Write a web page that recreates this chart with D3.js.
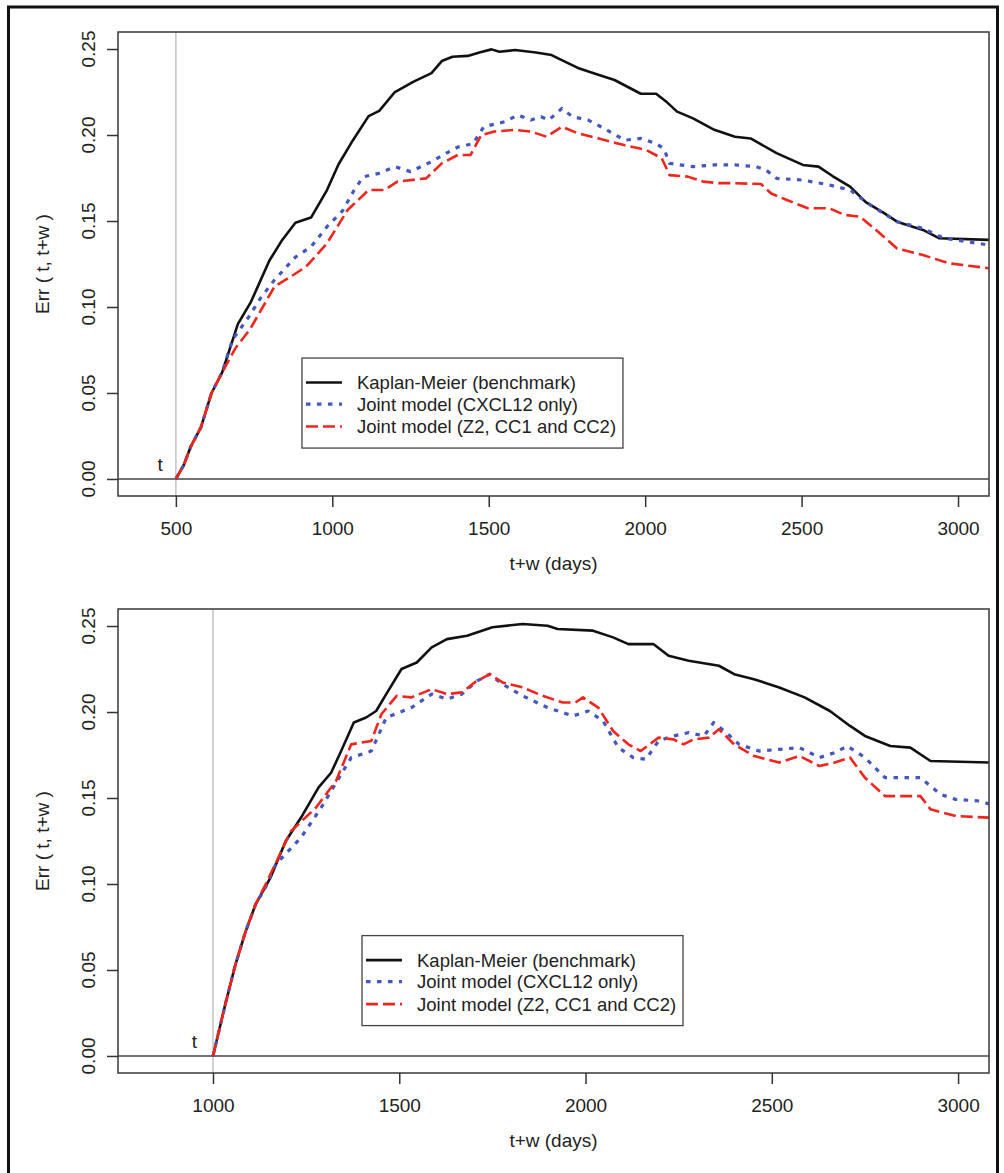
<!DOCTYPE html>
<html>
<head>
<meta charset="utf-8">
<script src="https://cdn.jsdelivr.net/npm/d3@7"></script>
<style>
  body { margin: 0; background: #fff; }
  text { font-family: "Liberation Sans", Arial, sans-serif; fill: #222; }
</style>
</head>
<body>
<svg id="vis" width="1004" height="1173"></svg>
<script>
const svg = d3.select("#vis");

// series: [t+w (days), Err]
const topKM = [[500,0],[525,0.008],[548,0.019],[580,0.03],[614,0.05],[648,0.062],[698,0.09],[740,0.103],
  [799,0.127],[840,0.139],[882,0.149],[932,0.152],[983,0.168],[1020,0.183],[1066,0.197],[1116,0.211],
  [1150,0.214],[1200,0.225],[1260,0.231],[1317,0.236],[1350,0.243],[1384,0.2455],[1433,0.246],[1470,0.248],
  [1509,0.2498],[1534,0.2484],[1584,0.2494],[1651,0.248],[1701,0.2465],[1740,0.243],[1785,0.239],[1850,0.235],
  [1902,0.232],[1986,0.224],[2035,0.224],[2070,0.219],[2102,0.2136],[2153,0.2097],[2221,0.203],[2287,0.199],
  [2337,0.198],[2420,0.1895],[2504,0.1826],[2554,0.1816],[2600,0.176],[2655,0.170],[2705,0.161],[2760,0.155],
  [2805,0.1496],[2850,0.147],[2888,0.1448],[2939,0.140],[3100,0.139]];
const topCXCL12 = [[500,0],[525,0.008],[548,0.019],[580,0.03],[614,0.05],[648,0.062],[681,0.081],[732,0.094],
  [770,0.105],[815,0.1157],[882,0.129],[932,0.135],[983,0.1467],[1033,0.156],[1070,0.168],[1099,0.1757],
  [1149,0.1777],[1200,0.1816],[1250,0.1787],[1317,0.1845],[1360,0.189],[1401,0.193],[1450,0.195],[1484,0.2048],
  [1551,0.2077],[1593,0.2116],[1635,0.2087],[1667,0.2106],[1692,0.2087],[1734,0.2155],[1768,0.2106],[1818,0.2087],
  [1868,0.2039],[1935,0.197],[1986,0.198],[2035,0.195],[2060,0.192],[2078,0.1835],[2153,0.1816],[2221,0.1826],
  [2287,0.1826],[2354,0.1816],[2386,0.1797],[2420,0.1748],[2504,0.1738],[2588,0.171],[2655,0.168],[2722,0.159],
  [2805,0.1496],[2888,0.1457],[2955,0.14],[3100,0.136]];
const topZ2 = [[500,0],[525,0.008],[548,0.019],[580,0.03],[614,0.05],[648,0.062],[690,0.076],[737,0.087],
  [815,0.1118],[870,0.118],[916,0.1234],[983,0.137],[1049,0.1564],[1116,0.168],[1166,0.168],[1208,0.1729],
  [1300,0.1748],[1350,0.1835],[1401,0.1884],[1442,0.1884],[1476,0.200],[1518,0.202],[1584,0.203],[1635,0.202],
  [1685,0.199],[1734,0.2048],[1785,0.201],[1852,0.198],[1935,0.194],[2003,0.1913],[2053,0.1865],[2078,0.1767],
  [2136,0.1758],[2186,0.1729],[2236,0.172],[2287,0.172],[2370,0.1715],[2403,0.166],[2453,0.1622],[2520,0.1574],
  [2588,0.1574],[2638,0.1535],[2687,0.1525],[2738,0.1448],[2805,0.134],[2888,0.1302],[2971,0.1254],[3100,0.1225]];

const botKM = [[1000,0],[1033,0.03],[1060,0.053],[1087,0.072],[1114,0.088],[1154,0.1035],[1195,0.1249],
  [1236,0.1385],[1283,0.156],[1317,0.1647],[1344,0.1773],[1378,0.1939],[1411,0.1968],[1438,0.2006],[1465,0.2104],
  [1506,0.225],[1547,0.2288],[1587,0.2376],[1628,0.2424],[1682,0.2443],[1750,0.2493],[1831,0.2512],[1898,0.2502],
  [1925,0.2483],[2020,0.2473],[2074,0.2434],[2115,0.2395],[2182,0.2395],[2223,0.2327],[2277,0.2298],[2358,0.2269],
  [2399,0.222],[2452,0.2191],[2520,0.2143],[2588,0.2085],[2656,0.2006],[2710,0.1919],[2750,0.1861],[2818,0.1802],
  [2872,0.1793],[2926,0.1715],[3090,0.1706]];
const botCXCL12 = [[1000,0],[1033,0.03],[1060,0.053],[1087,0.072],[1114,0.088],[1141,0.098],[1168,0.1113],
  [1236,0.1269],[1290,0.1443],[1344,0.1638],[1371,0.1735],[1425,0.1773],[1465,0.1968],[1533,0.2026],[1587,0.2104],
  [1628,0.2075],[1668,0.2104],[1709,0.2181],[1743,0.222],[1777,0.2162],[1831,0.2094],[1898,0.2026],[1966,0.1977],
  [2007,0.2006],[2047,0.1948],[2088,0.1793],[2128,0.1735],[2162,0.1725],[2196,0.1832],[2236,0.1861],[2277,0.188],
  [2318,0.1861],[2344,0.1939],[2378,0.188],[2412,0.1812],[2466,0.1773],[2520,0.1783],[2574,0.1793],[2628,0.1735],
  [2669,0.1764],[2703,0.1802],[2750,0.1735],[2804,0.1618],[2899,0.1618],[2953,0.1521],[2994,0.1492],[3060,0.1482],
  [3090,0.146]];
const botZ2 = [[1000,0],[1033,0.03],[1060,0.053],[1087,0.072],[1114,0.088],[1141,0.0997],[1209,0.1307],
  [1276,0.1443],[1330,0.1598],[1371,0.1812],[1425,0.1832],[1452,0.1987],[1493,0.2094],[1533,0.2085],[1587,0.2133],
  [1628,0.2104],[1668,0.2114],[1702,0.2172],[1743,0.222],[1777,0.2172],[1831,0.2143],[1885,0.2094],[1939,0.2055],
  [1973,0.2055],[1993,0.2085],[2034,0.2026],[2074,0.189],[2115,0.1812],[2148,0.1773],[2196,0.1851],[2236,0.1841],
  [2263,0.1812],[2290,0.1841],[2331,0.1851],[2358,0.19],[2399,0.1812],[2453,0.1744],[2520,0.1706],[2574,0.1744],
  [2628,0.1686],[2669,0.1706],[2710,0.1735],[2750,0.1618],[2804,0.1511],[2899,0.1511],[2926,0.1434],[2994,0.1395],
  [3090,0.1385]];

const legendLabels = ["Kaplan-Meier (benchmark)", "Joint model (CXCL12 only)", "Joint model (Z2, CC1 and CC2)"];
const topXTicks = [500, 1000, 1500, 2000, 2500, 3000];
const botXTicks = [1000, 1500, 2000, 2500, 3000];
const yTicks = [0, 0.05, 0.10, 0.15, 0.20, 0.25];

const STYLES = [
  {color: "#111", width: 2.6, dash: null},
  {color: "#4457bf", width: 3.2, dash: "4.5 6.5"},
  {color: "#f0261c", width: 2.6, dash: "12 5"}
];
const FONT = 19;

// outer frame
svg.append("rect").attr("x", 8.5).attr("y", 7).attr("width", 989).attr("height", 1190)
  .attr("fill", "none").attr("stroke", "#111").attr("stroke-width", 3);

function drawPanel(cfg, idx) {
  const x = d3.scaleLinear().domain(cfg.xDomain).range([118, 989]);
  const y = d3.scaleLinear().domain([-0.0099, 0.2599]).range([cfg.bottom, cfg.top]);
  const g = svg.append("g");

  g.append("clipPath").attr("id", "clip" + idx)
    .append("rect").attr("x", 118).attr("y", cfg.top).attr("width", 871).attr("height", cfg.bottom - cfg.top);

  // grey line at t
  g.append("line").attr("x1", x(cfg.t)).attr("x2", x(cfg.t)).attr("y1", cfg.top).attr("y2", cfg.bottom)
    .attr("stroke", "#c4c4c4").attr("stroke-width", 1.5);
  // zero line
  g.append("line").attr("x1", 118).attr("x2", 989).attr("y1", y(0)).attr("y2", y(0))
    .attr("stroke", "#444").attr("stroke-width", 1.6);

  const line = d3.line().x(d => x(d[0])).y(d => y(d[1]));
  const curves = g.append("g").attr("clip-path", "url(#clip" + idx + ")");
  cfg.series.forEach((s, i) => {
    curves.append("path").datum(s)
      .attr("d", line)
      .attr("fill", "none")
      .attr("stroke", STYLES[i].color)
      .attr("stroke-width", STYLES[i].width)
      .attr("stroke-dasharray", STYLES[i].dash)
      .attr("stroke-linejoin", "round");
  });

  // box
  g.append("rect").attr("x", 118).attr("y", cfg.top).attr("width", 871).attr("height", cfg.bottom - cfg.top)
    .attr("fill", "none").attr("stroke", "#444").attr("stroke-width", 1.6);

  // x axis
  const xa = g.append("g").attr("transform", `translate(0,${cfg.bottom})`)
    .call(d3.axisBottom(x).tickValues(cfg.xTicks).tickSize(11).tickPadding(15).tickFormat(d3.format("d")));
  xa.select(".domain").remove();
  xa.selectAll("line").attr("stroke", "#333").attr("stroke-width", 1.5);
  xa.selectAll("text").attr("font-size", FONT).attr("font-family", null).attr("fill", "#222");

  // y axis, labels parallel to the axis
  const ya = g.append("g").attr("transform", "translate(118,0)")
    .call(d3.axisLeft(y).tickValues(yTicks).tickSize(11).tickFormat(""));
  ya.select(".domain").remove();
  ya.selectAll("line").attr("stroke", "#333").attr("stroke-width", 1.5);
  g.selectAll(".ylab").data(yTicks).join("text")
    .attr("class", "ylab")
    .attr("transform", d => `translate(95,${y(d)}) rotate(-90)`)
    .attr("text-anchor", "middle").attr("font-size", FONT)
    .text(d3.format(".2f"));

  // axis titles
  g.append("text").attr("x", (118 + 989) / 2).attr("y", cfg.bottom + 74)
    .attr("text-anchor", "middle").attr("font-size", FONT).text("t+w (days)");
  g.append("text").attr("transform", `translate(49,${(cfg.top + cfg.bottom) / 2}) rotate(-90)`)
    .attr("text-anchor", "middle").attr("font-size", FONT).text("Err ( t, t+w )");

  // t marker
  g.append("text").attr("x", x(cfg.t - 50)).attr("y", y(0) - 8)
    .attr("text-anchor", "middle").attr("font-size", FONT).text("t");

  // legend
  const lx = x(cfg.legendAt[0]), ly = y(cfg.legendAt[1]);
  const lg = g.append("g").attr("transform", `translate(${lx},${ly})`);
  lg.append("rect").attr("width", 321).attr("height", 90)
    .attr("fill", "#fff").attr("stroke", "#444").attr("stroke-width", 1.3);
  const rows = [24.5, 46, 68.5];
  legendLabels.forEach((lab, i) => {
    lg.append("line").attr("x1", 4).attr("x2", 40).attr("y1", rows[i]).attr("y2", rows[i])
      .attr("stroke", STYLES[i].color).attr("stroke-width", STYLES[i].width)
      .attr("stroke-dasharray", STYLES[i].dash);
    lg.append("text").attr("x", 55).attr("y", rows[i] + 6.5).attr("font-size", 18.5).text(lab);
  });
}

drawPanel({xDomain: [315, 3099], top: 32, bottom: 496, t: 500, xTicks: topXTicks,
  legendAt: [903, 0.0703], series: [topKM, topCXCL12, topZ2]}, 0);
drawPanel({xDomain: [745, 3083], top: 609, bottom: 1073, t: 1000, xTicks: botXTicks,
  legendAt: [1400, 0.0700], series: [botKM, botCXCL12, botZ2]}, 1);
</script>
</body>
</html>
